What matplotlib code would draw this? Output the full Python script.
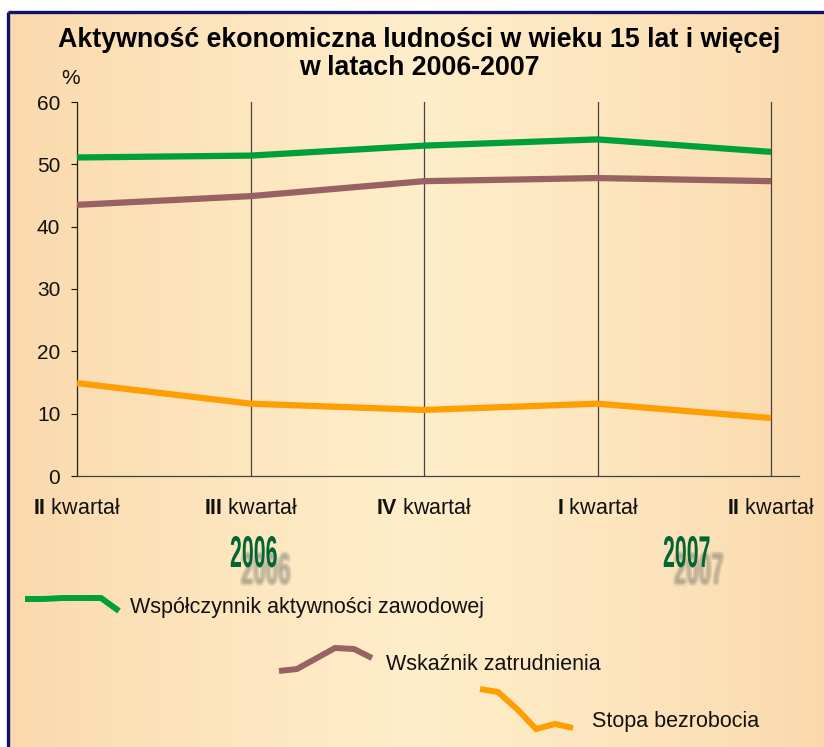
import matplotlib
matplotlib.use("Agg")
import matplotlib.pyplot as plt
import matplotlib.patheffects as pe
from matplotlib.transforms import Affine2D
import numpy as np

plt.rcParams['font.family'] = ['Liberation Sans', 'DejaVu Sans']
plt.rcParams['mathtext.fontset'] = 'custom'
plt.rcParams['mathtext.rm'] = 'Liberation Sans'
plt.rcParams['mathtext.bf'] = 'Liberation Sans:bold'

# ---- data ----
quarters = [r"$\mathbf{II}$ kwartał", r"$\mathbf{III}$ kwartał", r"$\mathbf{IV}$ kwartał",
            r"$\mathbf{I}$ kwartał", r"$\mathbf{II}$ kwartał"]
activity = [51.1, 51.4, 53.0, 54.0, 52.0]
employment = [43.5, 44.9, 47.3, 47.8, 47.3]
unemployment = [14.9, 11.6, 10.6, 11.6, 9.3]
series_names = ["Współczynnik aktywności zawodowej", "Wskaźnik zatrudnienia", "Stopa bezrobocia"]
years = ["2006", "2007"]
yticks = [0, 10, 20, 30, 40, 50, 60]

colors = ["#00A038", "#996262", "#FF9E00"]


class XScale(pe.AbstractPathEffect):
    """Horizontally condense glyphs (left-anchored)."""
    def __init__(self, sx):
        super().__init__()
        self.sx = sx

    def draw_path(self, renderer, gc, tpath, affine, rgbFace=None):
        renderer.draw_path(gc, tpath, Affine2D().scale(self.sx, 1) + affine, rgbFace)


class BlurShadow(pe.AbstractPathEffect):
    """Soft, offset, condensed shadow made from several faint copies."""
    def __init__(self, sx, ox, oy, color='#86867a', alpha=0.10, spread=1.6):
        super().__init__()
        self.sx, self.ox, self.oy = sx, ox, oy
        self.color, self.alpha, self.spread = color, alpha, spread

    def draw_path(self, renderer, gc, tpath, affine, rgbFace=None):
        for dx in (-self.spread, 0, self.spread):
            for dy in (-self.spread, 0, self.spread):
                g = renderer.new_gc()
                g.copy_properties(gc)
                g.set_alpha(self.alpha)
                g.set_foreground(self.color)
                tr = (Affine2D().scale(self.sx, 1) + affine
                      + Affine2D().translate(self.ox + dx, self.oy + dy))
                renderer.draw_path(g, tpath, tr, matplotlib.colors.to_rgba(self.color, self.alpha))
                g.restore()


W, H = 824, 747
fig = plt.figure(figsize=(W / 100, H / 100), dpi=100)
fig.patch.set_facecolor('white')

# ---- background in pixel coordinates ----
bg = fig.add_axes([0, 0, 1, 1], zorder=-5)
bg.set_xlim(0, W)
bg.set_ylim(H, 0)
bg.axis('off')
xs = np.linspace(0, 1, 400)
c_edge = np.array([0xFA, 0xD8, 0xAB]) / 255
c_mid = np.array([0xFF, 0xEE, 0xCA]) / 255
t = 1 - np.abs(xs - 0.5) * 2
t = np.clip(t ** 0.8, 0, 1)
grad = c_edge[None, :] * (1 - t[:, None]) + c_mid[None, :] * t[:, None]
grad = grad[None, :, :]
bg.imshow(grad, extent=[8.5, W + 5, H + 5, 11.5], aspect='auto', zorder=0)
bg.plot([8.5, 8.5], [H + 5, 11.5], color='#12126E', lw=2.4, zorder=2, solid_capstyle='butt')
bg.plot([8.5, W + 5], [11.5, 11.5], color='#12126E', lw=2.4, zorder=2, solid_capstyle='butt')

# legend glyphs (decorative squiggles) in pixel coords
leg_green = ([25, 43, 63, 101, 119], [599, 599, 598, 598, 611])
leg_brown = ([279, 297, 335, 354, 372], [671, 669, 648, 649, 658])
leg_orange = ([480, 498, 518, 536, 555, 573], [689, 692, 710, 729, 724, 728])
for (gx, gy), c in zip([leg_green, leg_brown, leg_orange], colors):
    bg.plot(gx, gy, color=c, lw=4.3, zorder=3, solid_joinstyle='miter', solid_capstyle='butt')
bg.text(130, 607, series_names[0], fontsize=15.5, va='center', ha='left', color='#111111')
bg.text(386, 665, series_names[1], fontsize=15.5, va='center', ha='left', color='#111111')
bg.text(592, 722, series_names[2], fontsize=15.5, va='center', ha='left', color='#111111')

# year labels (condensed) with blurred shadow
for yr, lx in zip(years, [230, 663]):
    bg.text(lx, 567, yr, fontsize=32, fontweight='bold',
            color='#006633', ha='left', va='baseline', zorder=4,
            path_effects=[BlurShadow(0.50, 11, -17), XScale(0.48)])

# title
bg.text(419, 40, "Aktywność ekonomiczna ludności w wieku 15 lat i więcej",
        fontsize=19.3, fontweight='bold', ha='center', va='center', color='#000000')
bg.text(419, 68, "w latach 2006-2007",
        fontsize=19.3, fontweight='bold', ha='center', va='center', color='#000000')

# ---- main axes ----
x0, x1 = 77, 799
ytop, ybot = 102, 476
ax = fig.add_axes([x0 / W, 1 - ybot / H, (x1 - x0) / W, (ybot - ytop) / H])
ax.patch.set_alpha(0)
x = np.arange(len(quarters))
ax.set_xlim(0, 4 * (x1 - x0) / (771 - x0))
ax.set_ylim(0, 60)
for xi in x[1:]:
    ax.axvline(xi, color='#444444', lw=0.9, zorder=1)
ax.plot(x, activity, color=colors[0], lw=4.5, zorder=3, solid_capstyle='butt')
ax.plot(x, employment, color=colors[1], lw=4.5, zorder=3, solid_capstyle='butt')
ax.plot(x, unemployment, color=colors[2], lw=4.5, zorder=3, solid_capstyle='butt')

for s in ['top', 'right']:
    ax.spines[s].set_visible(False)
ax.spines['left'].set_color('#222222')
ax.spines['bottom'].set_color('#444444')
ax.spines['left'].set_linewidth(0.9)
ax.spines['bottom'].set_linewidth(0.9)
ax.set_yticks(yticks)
ax.set_yticklabels([str(v) for v in yticks])
ax.tick_params(axis='y', length=4, width=0.8, pad=8, labelsize=15, colors='#111111')
ax.set_xticks(x)
ax.set_xticklabels(quarters)
ax.tick_params(axis='x', length=0, pad=16, labelsize=15.5, colors='#111111')
bg.text(71, 78, "%", fontsize=15, ha='center', va='center', color='#111111')

fig.savefig("out.png", dpi=100)
